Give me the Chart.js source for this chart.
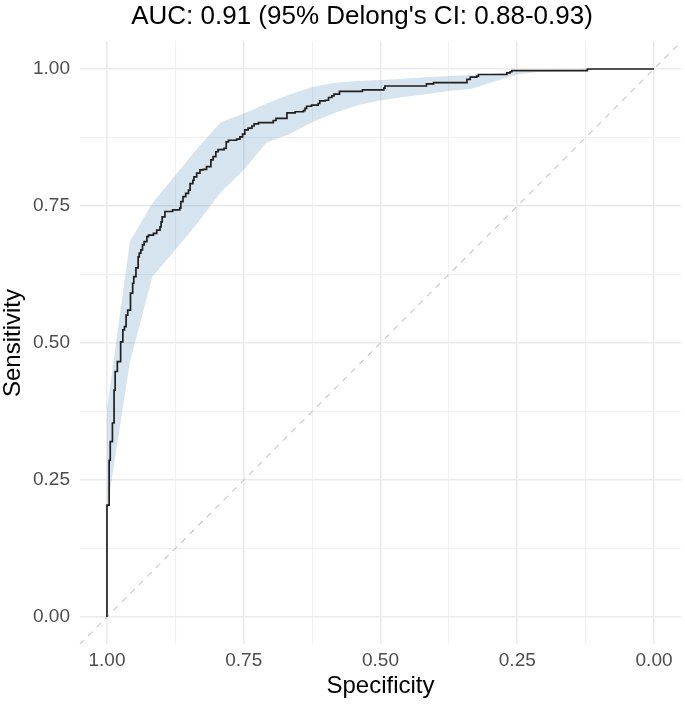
<!DOCTYPE html>
<html>
<head>
<meta charset="utf-8">
<script src="https://cdn.jsdelivr.net/npm/chart.js@4/dist/chart.umd.min.js"></script>
<style>
  html, body { margin: 0; padding: 0; background: #ffffff; }
  #wrap { width: 685px; height: 705px; }
</style>
</head>
<body>
<div id="wrap"><canvas id="c" width="685" height="705"></canvas></div>
<script>
// ---- Text ----
const titleText = "AUC: 0.91 (95% Delong's CI: 0.88-0.93)";
const xTitle = "Specificity";
const yTitle = "Sensitivity";

// ---- Tick values ----
const majorTicks = [0, 0.25, 0.5, 0.75, 1];
const minorTicks = [0.125, 0.375, 0.625, 0.875];

// ---- ROC curve (path vertices) ----
const rocSpecificity = [1, 1, 0.996, 0.994, 0.990, 0.987, 0.985, 0.981, 0.975, 0.971, 0.968, 0.965,
  0.962, 0.957, 0.953, 0.951, 0.947, 0.943, 0.941, 0.938, 0.935, 0.932, 0.927, 0.924,
  0.915, 0.909, 0.903, 0.901, 0.899, 0.894, 0.880, 0.867, 0.865, 0.861, 0.856, 0.851,
  0.848, 0.843, 0.841, 0.836, 0.830, 0.824, 0.818, 0.810, 0.806, 0.801, 0.797, 0.786,
  0.782, 0.778, 0.763, 0.757, 0.752, 0.748, 0.742, 0.735, 0.731, 0.723, 0.696, 0.691,
  0.671, 0.656, 0.641, 0.638, 0.635, 0.626, 0.614, 0.611, 0.601, 0.595, 0.589, 0.585,
  0.575, 0.533, 0.494, 0.492, 0.416, 0.403, 0.342, 0.336, 0.324, 0.321, 0.269, 0.263,
  0.260, 0.122, 0];
const rocSensitivity = [0, 0.204, 0.286, 0.320, 0.354, 0.414, 0.448, 0.466, 0.502, 0.524, 0.530, 0.551,
  0.560, 0.591, 0.609, 0.621, 0.637, 0.657, 0.664, 0.670, 0.679, 0.685, 0.694, 0.697,
  0.700, 0.706, 0.712, 0.721, 0.730, 0.740, 0.743, 0.746, 0.758, 0.767, 0.773, 0.779,
  0.791, 0.797, 0.803, 0.810, 0.816, 0.817, 0.822, 0.834, 0.840, 0.849, 0.853, 0.855,
  0.867, 0.870, 0.872, 0.876, 0.881, 0.889, 0.892, 0.896, 0.900, 0.902, 0.906, 0.910,
  0.920, 0.922, 0.924, 0.928, 0.932, 0.934, 0.937, 0.942, 0.943, 0.948, 0.951, 0.954,
  0.959, 0.962, 0.965, 0.969, 0.973, 0.975, 0.981, 0.985, 0.987, 0.990, 0.993, 0.995,
  0.997, 1.0, 1.0];

// ---- Sensitivity confidence band ----
const bandSpecificity = [1.000, 0.958, 0.917, 0.875, 0.833, 0.792, 0.750, 0.708, 0.667, 0.625, 0.583, 0.542,
  0.500, 0.458, 0.417, 0.375, 0.333, 0.292, 0.250, 0.208, 0.167, 0.125, 0.083, 0.042, 0.000];
const bandLower = [0.195, 0.466, 0.621, 0.670, 0.721, 0.775, 0.816, 0.866, 0.881, 0.903, 0.920, 0.934,
  0.943, 0.949, 0.954, 0.960, 0.964, 0.977, 0.990, 0.995, 0.996, 0.998, 1.0, 1.0, 1.0];
const bandUpper = [0.378, 0.685, 0.755, 0.806, 0.857, 0.903, 0.919, 0.937, 0.953, 0.967, 0.975, 0.978,
  0.980, 0.982, 0.985, 0.987, 0.989, 0.992, 0.995, 0.996, 0.997, 0.999, 1.0, 1.0, 1.0];

// ---- Chance diagonal (sensitivity = 1 - specificity) ----
const diagSpecificity = [1.05, -0.05];
const diagSensitivity = [-0.05, 1.05];

// ---- Build ----
const FONT = "'Liberation Sans', Arial, Helvetica, sans-serif";
const allTicks = majorTicks.concat(minorTicks).sort((a, b) => a - b);
const isMajor = v => majorTicks.some(m => Math.abs(m - v) < 1e-9);
const pts = (xs, ys) => xs.map((x, i) => ({ x: x, y: ys[i] }));

function axis(reverse) {
  return {
    type: 'linear',
    reverse: reverse,
    min: -0.05,
    max: 1.05,
    afterBuildTicks: s => { s.ticks = allTicks.map(v => ({ value: v })); },
    grid: {
      drawTicks: false,
      color: c => (c.tick && isMajor(c.tick.value)) ? '#ebebeb' : '#f1f1f1',
      lineWidth: c => (c.tick && isMajor(c.tick.value)) ? 1.6 : 1.1
    },
    border: { display: false },
    ticks: {
      autoSkip: false,
      maxRotation: 0,
      color: '#4d4d4d',
      font: { family: FONT, size: 19 },
      callback: v => isMajor(v) ? Number(v).toFixed(2) : ''
    }
  };
}

const xAxis = axis(true);
xAxis.afterFit = s => { s.height = 60.6; };
xAxis.ticks.padding = 5;
xAxis.title = { display: true, text: xTitle, color: '#000000', font: { family: FONT, size: 24 }, padding: { top: 0, bottom: 4 } };

const yAxis = axis(false);
yAxis.afterFit = s => { s.width = 79.6; };
yAxis.ticks.padding = 9.6;
yAxis.title = { display: true, text: yTitle, color: '#000000', font: { family: FONT, size: 24 }, padding: { top: -1, bottom: 0 } };

// Title is centred over x = 42.6 .. 681.4 as in the reference
const titleSpan = {
  id: 'titleSpan',
  afterLayout(chart) {
    const t = chart.titleBlock;
    if (t) { t.left = 42.6; t.right = 681.4; t.width = t.right - t.left; }
  }
};

new Chart(document.getElementById('c'), {
  type: 'line',
  data: {
    datasets: [
      {
        label: 'ROC',
        data: pts(rocSpecificity, rocSensitivity),
        stepped: 'before',
        borderColor: '#1f1f1f',
        borderWidth: 1.7,
        pointRadius: 0,
        fill: false,
        order: 0
      },
      {
        label: 'Chance',
        data: pts(diagSpecificity, diagSensitivity),
        borderColor: '#c8c8c8',
        borderWidth: 1.1,
        borderDash: [6, 6],
        pointRadius: 0,
        fill: false,
        order: 1
      },
      {
        label: 'CI lower',
        data: pts(bandSpecificity, bandLower),
        borderColor: 'transparent',
        borderWidth: 0,
        pointRadius: 0,
        fill: false,
        order: 3
      },
      {
        label: 'CI upper',
        data: pts(bandSpecificity, bandUpper),
        borderColor: 'transparent',
        borderWidth: 0,
        pointRadius: 0,
        backgroundColor: 'rgba(70,130,180,0.22)',
        fill: '-1',
        order: 2
      }
    ]
  },
  options: {
    responsive: false,
    animation: false,
    events: [],
    devicePixelRatio: 1,
    layout: { padding: { left: 0, right: 3.6, top: 0, bottom: 0 } },
    scales: { x: xAxis, y: yAxis },
    plugins: {
      legend: { display: false },
      tooltip: { enabled: false },
      title: {
        display: true,
        text: titleText,
        color: '#000000',
        font: { family: FONT, size: 26, weight: 'normal' },
        padding: { top: 1.5, bottom: 8.9 }
      }
    }
  },
  plugins: [titleSpan]
});
</script>
</body>
</html>
